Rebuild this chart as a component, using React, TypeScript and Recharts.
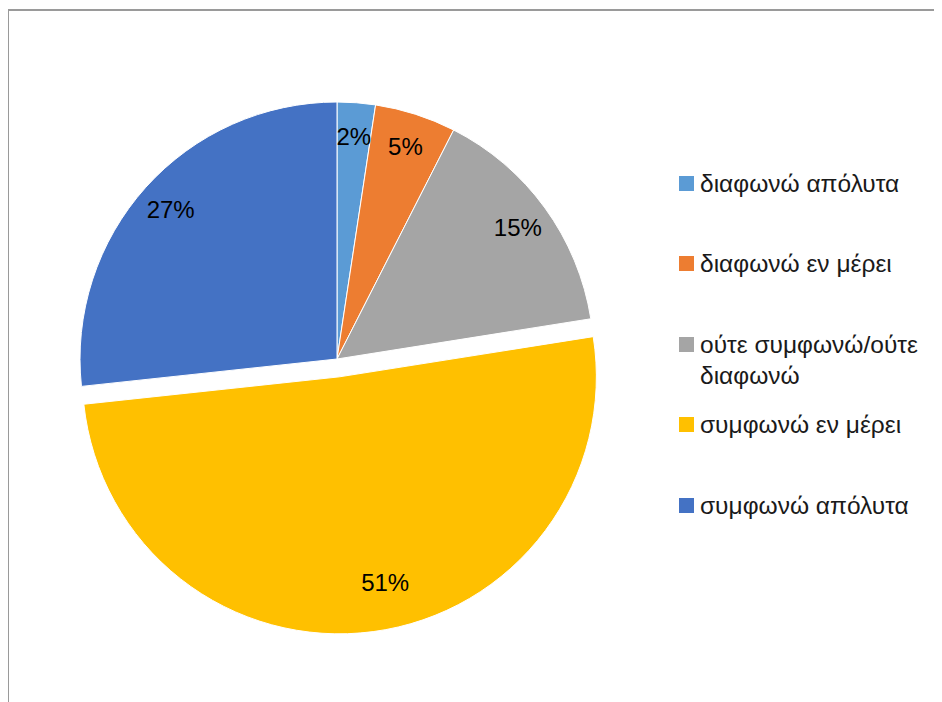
import { Cell, Legend, Pie, PieChart } from "recharts";

// Survey answers (share of respondents, %)
const categories = [
  "διαφωνώ απόλυτα",
  "διαφωνώ εν μέρει",
  "ούτε συμφωνώ/ούτε διαφωνώ",
  "συμφωνώ εν μέρει",
  "συμφωνώ απόλυτα"
];
const shares = [2.4, 5.1, 15.0, 50.8, 26.7];
const colors = ["#5B9BD5", "#ED7D31", "#A5A5A5", "#FFC000", "#4472C4"];
const explodedIndex = 3;

const data = categories.map((name, i) => ({ name, value: shares[i] }));

const FONT = "'Liberation Sans', Arial, sans-serif";
const RAD = Math.PI / 180;
const R = 257;
const CX = 329;
const CY = 351;
// explode offset for the "συμφωνώ εν μέρει" slice
const EXPLODE = 18;

function makeLabel(onlyExploded: boolean) {
  return (props: any) => {
    const { cx, cy, midAngle, outerRadius, percent, index } = props;
    const isExploded = index === explodedIndex;
    if (isExploded !== onlyExploded) return <g />;
    // Excel "best fit" nudges the big slice's label a bit off its mid angle
    const angle = isExploded ? midAngle + 5 : midAngle;
    const r = outerRadius * (isExploded ? 0.82 : 0.87);
    const x = cx + r * Math.cos(-angle * RAD);
    const y = cy + r * Math.sin(-angle * RAD);
    return (
      <text
        x={x}
        y={y}
        textAnchor="middle"
        dominantBaseline="central"
        fontFamily={FONT}
        fontSize={24}
        fill="#000"
      >
        {`${Math.round(percent * 100)}%`}
      </text>
    );
  };
}

function LegendBox() {
  return (
    <div style={{ position: "relative", width: 934, height: 694, fontFamily: FONT }}>
      {categories.map((name, i) => {
        const top = 175 + i * 80.5 - 15.5;
        return (
          <div key={name} style={{ position: "absolute", left: 671, top, display: "flex" }}>
            <div
              style={{
                width: 15,
                height: 15,
                background: colors[i],
                marginTop: 8,
                marginRight: 6
              }}
            />
            <div style={{ width: 250, fontSize: 24.5, lineHeight: "31px", color: "#1a1a1a" }}>
              {name}
            </div>
          </div>
        );
      })}
    </div>
  );
}

export default function App() {
  // mid angle of the exploded slice, clockwise from 12 o'clock
  const before = shares.slice(0, explodedIndex).reduce((a, b) => a + b, 0);
  const total = shares.reduce((a, b) => a + b, 0);
  const mid = ((before + shares[explodedIndex] / 2) / total) * 360;
  const ex = CX + EXPLODE * Math.sin(mid * RAD);
  const ey = CY - EXPLODE * Math.cos(mid * RAD);

  return (
    <div style={{ position: "relative", width: 934, height: 694, overflow: "hidden" }}>
      <div
        style={{
          position: "absolute",
          left: -1,
          top: 1,
          width: 960,
          height: 720,
          borderTop: "2px solid #9a9a9a",
          borderLeft: "2px solid #9a9a9a"
        }}
      />
      <PieChart width={934} height={694} margin={{ top: 0, right: 0, bottom: 0, left: 0 }}>
        <Pie
          data={data}
          dataKey="value"
          nameKey="name"
          cx={CX}
          cy={CY}
          outerRadius={R}
          startAngle={90}
          endAngle={-270}
          stroke="#fff"
          strokeWidth={1}
          labelLine={false}
          label={makeLabel(false)}
          isAnimationActive={false}
        >
          {data.map((d, i) => (
            <Cell
              key={d.name}
              fill={i === explodedIndex ? "transparent" : colors[i]}
              stroke={i === explodedIndex ? "none" : "#fff"}
            />
          ))}
        </Pie>
        <Pie
          data={data}
          dataKey="value"
          nameKey="name"
          cx={ex}
          cy={ey}
          outerRadius={R}
          startAngle={90}
          endAngle={-270}
          stroke="#fff"
          strokeWidth={1}
          labelLine={false}
          label={makeLabel(true)}
          isAnimationActive={false}
        >
          {data.map((d, i) => (
            <Cell
              key={d.name}
              fill={i === explodedIndex ? colors[i] : "transparent"}
              stroke={i === explodedIndex ? "#fff" : "none"}
            />
          ))}
        </Pie>
        <Legend
          content={() => <LegendBox />}
          wrapperStyle={{ position: "absolute", left: 0, top: 0, width: 934, height: 694 }}
        />
      </PieChart>
    </div>
  );
}
